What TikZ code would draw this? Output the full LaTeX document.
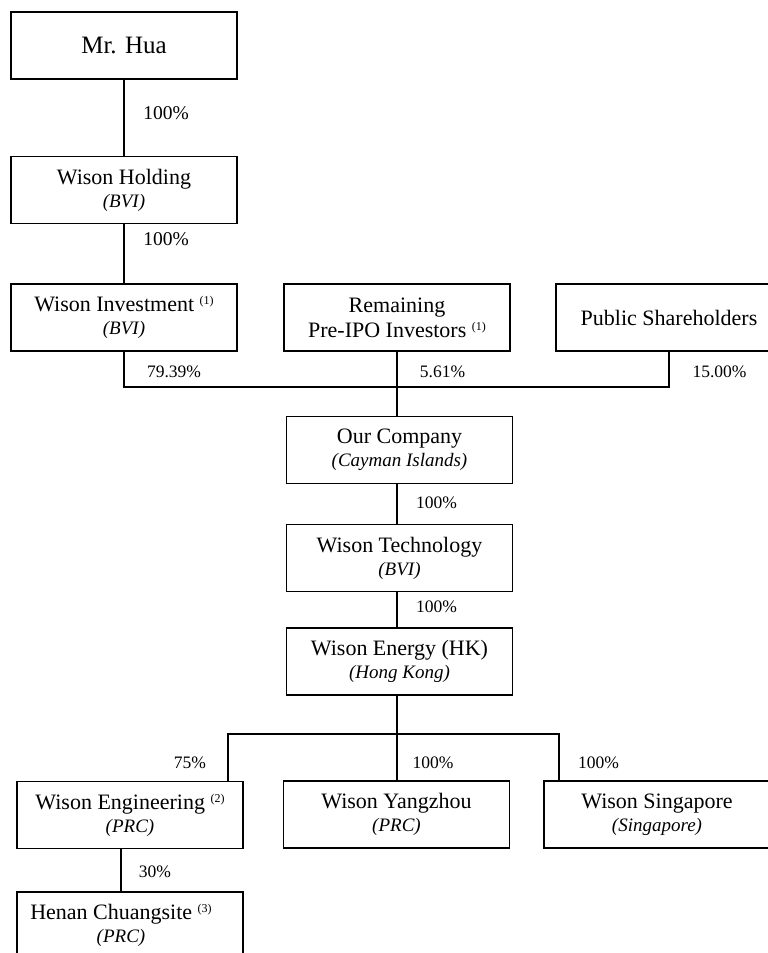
\documentclass[tikz,border=0pt]{standalone}
\usepackage{fontspec}
\setmainfont{Liberation Serif}
\newcommand{\fnote}[1]{\raisebox{7pt}{\fontsize{12}{12}\selectfont(#1)}}
\newcommand{\loc}[1]{{\itshape\fontsize{19}{23}\selectfont #1}}
\tikzset{
  box/.style={draw, line width=1.5pt, minimum width=226pt, minimum height=67pt,
    inner sep=0pt, align=center, font=\fontsize{22}{23}\selectfont},
  pct/.style={font=\fontsize{17.5}{17.5}\selectfont, inner sep=0pt},
  bigpct/.style={font=\fontsize{19.5}{19.5}\selectfont, inner sep=0pt},
  ln/.style={line width=1.5pt}
}
\begin{document}
\begin{tikzpicture}[x=1pt,y=-1pt]
\useasboundingbox (0,0) rectangle (768,953);
\fill[white] (0,0) rectangle (768,953);
% boxes
\node[box, font=\fontsize{25}{25}\selectfont] (hua) at (124,45.5) {Mr. Hua};
\node[box] (hold) at (124,190) {Wison Holding\\\loc{(BVI)}};
\node[box] (inv) at (124,317.5) {Wison Investment \fnote{1}\\\loc{(BVI)}};
\node[box] (rem) at (397,317.5) {Remaining\\[2pt]Pre-IPO Investors \fnote{1}};
\node[box] (pub) at (669,317.5) {Public Shareholders};
\node[box] (co) at (399.5,450) {Our Company\\\loc{(Cayman Islands)}};
\node[box] (tech) at (399.5,558) {Wison Technology\\\loc{(BVI)}};
\node[box] (en) at (399.5,661.5) {Wison Energy (HK)\\\loc{(Hong Kong)}};
\node[box] (eng) at (130,815) {Wison Engineering \fnote{2}\\\loc{(PRC)}};
\node[box] (yz) at (396.5,814.5) {Wison Yangzhou\\\loc{(PRC)}};
\node[box] (sg) at (657,814.5) {Wison Singapore\\\loc{(Singapore)}};
\node[box] (hn) at (130,925.5) {Henan Chuangsite \fnote{3}\hspace*{18pt}\\\loc{(PRC)}\hspace*{18pt}};
% helper coordinates
\coordinate (m) at (397,0);
\coordinate (bl) at (228,734);
\coordinate (br) at (559,734);
\coordinate (el) at (121,0);
% connectors
\draw[ln] (hua) -- (hold);
\draw[ln] (hold) -- (inv);
\draw[ln] (inv.south) -- ++(0,35) -| (pub.south);
\draw[ln] (rem.south) -- (co.north -| rem.south);
\draw[ln] (co.south -| m) -- (tech.north -| m);
\draw[ln] (tech.south -| m) -- (en.north -| m);
\draw[ln] (en.south -| m) -- (yz.north -| m);
\draw[ln] (eng.north -| bl) |- (br) -- (sg.north -| br);
\draw[ln] (eng.south -| el) -- (hn.north -| el);
% labels
\node[bigpct] (p1) at (166,113.5) {100\%};
\node[bigpct] (p2) at (166,239) {100\%};
\node[pct] (p3) at (174,372) {79.39\%};
\node[pct] (p4) at (442.5,372) {5.61\%};
\node[pct] (p5) at (719.5,372) {15.00\%};
\node[pct] (p6) at (436.5,503) {100\%};
\node[pct] (p7) at (436.5,607) {100\%};
\node[pct] (p8) at (190,763) {75\%};
\node[pct] (p9) at (433,763) {100\%};
\node[pct] (p10) at (598.5,763) {100\%};
\node[pct] (p11) at (155,872) {30\%};
\end{tikzpicture}
\end{document}
